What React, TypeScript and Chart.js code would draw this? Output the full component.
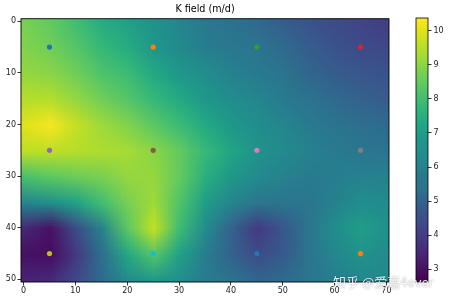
import React, { useEffect, useRef } from 'react';
import { Chart, registerables } from 'chart.js';

Chart.register(...registerables);

const TITLE = 'K field (m/d)';
const WATERMARK = '知乎 @爱嘉4ever';
const FONT = 'DejaVu Sans';

// Grid coordinates of the read values
const GRID_X = [0, 5, 10, 15, 20, 25, 30, 35, 40, 45, 50, 55, 60, 65, 70];
const GRID_Y = [0, 5, 10, 15, 20, 25, 30, 35, 40, 45, 50];

// K values (m/d), one row per y
const K_Y00 = [8.8, 8.5, 8.0, 7.4, 7.1, 6.6, 6.1, 5.7, 5.4, 5.2, 4.9, 4.6, 4.4, 4.2, 4.0];
const K_Y05 = [8.9, 8.7, 8.3, 7.8, 7.4, 6.8, 6.3, 5.9, 5.7, 5.5, 5.2, 4.9, 4.6, 4.4, 4.3];
const K_Y10 = [9.1, 9.0, 8.7, 8.2, 7.9, 7.3, 6.8, 6.4, 6.0, 5.8, 5.5, 5.1, 4.9, 4.7, 4.6];
const K_Y15 = [9.5, 9.5, 9.1, 8.7, 8.3, 7.8, 7.3, 6.8, 6.4, 6.1, 5.8, 5.4, 5.2, 5.0, 4.9];
const K_Y20 = [10.0, 10.3, 9.7, 9.2, 8.9, 8.4, 7.9, 7.3, 6.8, 6.4, 6.1, 5.8, 5.5, 5.3, 5.2];
const K_Y25 = [9.6, 9.6, 9.5, 9.4, 9.3, 9.0, 8.5, 7.8, 7.2, 6.6, 6.3, 6.0, 5.8, 5.6, 5.5];
const K_Y30 = [8.1, 8.4, 8.6, 8.8, 9.1, 9.1, 8.5, 7.5, 6.8, 6.3, 6.0, 5.8, 5.9, 6.0, 6.0];
const K_Y35 = [6.1, 6.4, 7.1, 8.0, 8.8, 9.2, 8.2, 7.0, 6.1, 5.6, 5.5, 5.6, 6.0, 6.4, 6.3];
const K_Y40 = [3.5, 3.0, 4.4, 6.0, 8.4, 9.7, 7.9, 6.3, 5.0, 3.9, 4.7, 5.6, 6.4, 7.0, 6.5];
const K_Y45 = [3.0, 2.9, 3.9, 5.3, 7.3, 8.3, 7.1, 5.9, 5.0, 4.4, 4.8, 5.5, 6.2, 6.6, 6.3];
const K_Y50 = [3.4, 3.5, 4.3, 5.2, 6.3, 6.9, 6.4, 5.8, 5.4, 5.1, 5.2, 5.6, 5.9, 6.2, 6.2];
const K_FIELD = [K_Y00, K_Y05, K_Y10, K_Y15, K_Y20, K_Y25, K_Y30, K_Y35, K_Y40, K_Y45, K_Y50];

// Observation points
const WELL_X = [5, 25, 45, 65, 5, 25, 45, 65, 5, 25, 45, 65];
const WELL_Y = [5, 5, 5, 5, 25, 25, 25, 25, 45, 45, 45, 45];
const WELL_COLORS = ['#1f77b4', '#ff7f0e', '#2ca02c', '#d62728', '#9467bd', '#8c564b', '#e377c2', '#7f7f7f', '#bcbd22', '#17becf', '#1f77b4', '#ff7f0e'];

// Axes
const X_TICKS = [0, 10, 20, 30, 40, 50, 60, 70];
const Y_TICKS = [0, 10, 20, 30, 40, 50];
const CB_TICKS = [3, 4, 5, 6, 7, 8, 9, 10];
const X_MIN = -0.5;
const X_MAX = 70.5;
const Y_MIN = -0.5;
const Y_MAX = 50.5;
const CB_MIN = 2.62;
const CB_MAX = 10.38;

// viridis colormap stops (style)
const VIRIDIS = [
  '#440154', '#471164', '#482475', '#463480', '#414487', '#3b528b', '#355f8d', '#2c728e', '#2a788e', '#24868e',
  '#21918c', '#1f998a', '#22a884', '#2fb47c', '#44bf70', '#5ec962', '#7ad151', '#a0da39', '#bddf26', '#dfe318', '#fde725',
];
const hexRgb = (h: string) => [parseInt(h.slice(1, 3), 16), parseInt(h.slice(3, 5), 16), parseInt(h.slice(5, 7), 16)];
const VIRIDIS_RGB = VIRIDIS.map(hexRgb);
function cmap(t: number): number[] {
  const c = Math.max(0, Math.min(1, t)) * (VIRIDIS_RGB.length - 1);
  const i = Math.min(VIRIDIS_RGB.length - 2, Math.floor(c));
  const f = c - i;
  const a = VIRIDIS_RGB[i], b = VIRIDIS_RGB[i + 1];
  return [0, 1, 2].map((k) => Math.round(a[k] + (b[k] - a[k]) * f));
}

const heatPlugin = {
  id: 'heat',
  beforeDatasetsDraw(chart: any) {
    const { ctx, chartArea, scales } = chart;
    const xs = scales.x, ys = scales.y;
    const nx = GRID_X.length, ny = GRID_Y.length;
    const off = document.createElement('canvas');
    off.width = nx;
    off.height = ny;
    const octx = off.getContext('2d')!;
    const img = octx.createImageData(nx, ny);
    for (let j = 0; j < ny; j++) {
      for (let i = 0; i < nx; i++) {
        const c = cmap((K_FIELD[j][i] - CB_MIN) / (CB_MAX - CB_MIN));
        const p = (j * nx + i) * 4;
        img.data[p] = c[0];
        img.data[p + 1] = c[1];
        img.data[p + 2] = c[2];
        img.data[p + 3] = 255;
      }
    }
    octx.putImageData(img, 0, 0);
    const x0 = xs.getPixelForValue(GRID_X[0]);
    const x1 = xs.getPixelForValue(GRID_X[nx - 1]);
    const y0 = ys.getPixelForValue(GRID_Y[0]);
    const y1 = ys.getPixelForValue(GRID_Y[ny - 1]);
    const cw = (x1 - x0) / (nx - 1);
    const ch = (y1 - y0) / (ny - 1);
    ctx.save();
    ctx.beginPath();
    ctx.rect(chartArea.left, chartArea.top, chartArea.right - chartArea.left, chartArea.bottom - chartArea.top);
    ctx.clip();
    ctx.imageSmoothingEnabled = true;
    ctx.imageSmoothingQuality = 'low';
    ctx.drawImage(off, x0 - cw / 2, y0 - ch / 2, cw * nx, ch * ny);
    ctx.restore();
  },
  afterDatasetsDraw(chart: any) {
    const { ctx, chartArea } = chart;
    ctx.save();
    ctx.strokeStyle = '#000';
    ctx.lineWidth = 0.9;
    ctx.strokeRect(chartArea.left, chartArea.top, chartArea.right - chartArea.left, chartArea.bottom - chartArea.top);
    ctx.restore();
  },
};

const colorbarPlugin = {
  id: 'colorbar',
  beforeDatasetsDraw(chart: any) {
    const { ctx, chartArea, scales } = chart;
    const ys = scales.y;
    const g = ctx.createLinearGradient(0, ys.getPixelForValue(CB_MIN), 0, ys.getPixelForValue(CB_MAX));
    VIRIDIS.forEach((c, i) => g.addColorStop(i / (VIRIDIS.length - 1), c));
    ctx.save();
    ctx.fillStyle = g;
    ctx.fillRect(chartArea.left, chartArea.top, chartArea.right - chartArea.left, chartArea.bottom - chartArea.top);
    ctx.strokeStyle = '#000';
    ctx.lineWidth = 0.8;
    ctx.strokeRect(chartArea.left, chartArea.top, chartArea.right - chartArea.left, chartArea.bottom - chartArea.top);
    ctx.restore();
  },
};

const tickFont = { family: FONT, size: 8 };

export default function App() {
  const mainRef = useRef<HTMLCanvasElement>(null);
  const cbRef = useRef<HTMLCanvasElement>(null);

  useEffect(() => {
    const main = new Chart(mainRef.current!, {
      type: 'scatter',
      data: {
        datasets: [
          {
            data: WELL_X.map((x, i) => ({ x, y: WELL_Y[i] })),
            pointBackgroundColor: WELL_COLORS,
            pointBorderWidth: 0,
            pointRadius: 2.6,
          } as any,
        ],
      },
      options: {
        animation: false,
        responsive: false,
        layout: { padding: { top: 0, left: 0, right: 61, bottom: 0 } },
        plugins: {
          legend: { display: false },
          tooltip: { enabled: false },
          title: {
            display: true,
            text: TITLE,
            fullSize: false,
            color: '#000',
            font: { family: FONT, size: 9.6, weight: 'normal' },
            padding: { top: 4, bottom: 3.2 },
          },
        },
        scales: {
          x: {
            type: 'linear',
            min: X_MIN,
            max: X_MAX,
            afterBuildTicks: (s: any) => {
              s.ticks = X_TICKS.map((v) => ({ value: v }));
            },
            afterFit: (s: any) => {
              s.height = 20;
            },
            grid: { drawOnChartArea: false, drawTicks: true, tickLength: 3.5, color: '#000', lineWidth: 0.8 },
            border: { display: false },
            ticks: { font: tickFont, color: '#222', padding: 1, maxRotation: 0, autoSkip: false },
          },
          y: {
            type: 'linear',
            reverse: true,
            min: Y_MIN,
            max: Y_MAX,
            afterBuildTicks: (s: any) => {
              s.ticks = Y_TICKS.map((v) => ({ value: v }));
            },
            afterFit: (s: any) => {
              s.width = 21;
            },
            grid: { drawOnChartArea: false, drawTicks: true, tickLength: 3.5, color: '#000', lineWidth: 0.8 },
            border: { display: false },
            ticks: { font: tickFont, color: '#222', padding: 1.5, autoSkip: false },
          },
        },
      } as any,
      plugins: [heatPlugin],
    });

    const cb = new Chart(cbRef.current!, {
      type: 'scatter',
      data: { datasets: [] },
      options: {
        animation: false,
        responsive: false,
        layout: { padding: { top: 18, left: 11, right: 0, bottom: 20 } },
        plugins: { legend: { display: false }, tooltip: { enabled: false }, title: { display: false } },
        scales: {
          x: { display: false, min: 0, max: 1 },
          y: {
            type: 'linear',
            position: 'right',
            min: CB_MIN,
            max: CB_MAX,
            afterBuildTicks: (s: any) => {
              s.ticks = CB_TICKS.map((v) => ({ value: v }));
            },
            afterFit: (s: any) => {
              s.width = 22;
            },
            grid: { drawOnChartArea: false, drawTicks: true, tickLength: 3.5, color: '#000', lineWidth: 0.8 },
            border: { display: false },
            ticks: { font: tickFont, color: '#222', padding: 2, autoSkip: false },
          },
        },
      } as any,
      plugins: [colorbarPlugin],
    });

    return () => {
      main.destroy();
      cb.destroy();
    };
  }, []);

  return (
    <div style={{ position: 'absolute', left: 0, top: 0, width: 450, height: 302, background: '#fff', overflow: 'hidden' }}>
      <canvas ref={mainRef} width={450} height={302} style={{ position: 'absolute', left: 0, top: 0 }} />
      <canvas ref={cbRef} width={45} height={302} style={{ position: 'absolute', left: 405, top: 0 }} />
      <div
        style={{
          position: 'absolute',
          left: 333,
          top: 274,
          fontFamily: "'Noto Sans CJK SC', sans-serif",
          fontSize: 13,
          lineHeight: '16px',
          color: 'rgba(255,255,255,0.92)',
          textShadow: '0 0 1.5px rgba(0,0,0,0.45)',
          whiteSpace: 'nowrap',
        }}
      >
        {WATERMARK}
      </div>
    </div>
  );
}
